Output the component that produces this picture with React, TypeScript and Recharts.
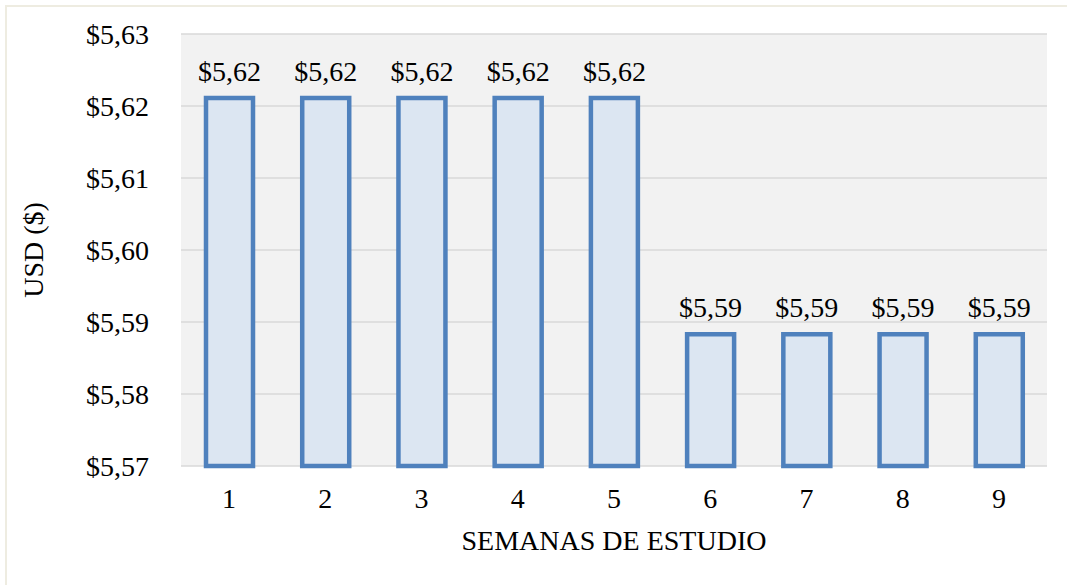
import React from "react";
import {
  BarChart,
  Bar,
  XAxis,
  YAxis,
  CartesianGrid,
  LabelList,
} from "recharts";

const WEEKS = ["1", "2", "3", "4", "5", "6", "7", "8", "9"];
const PRICES = [5.6211, 5.6211, 5.6211, 5.6211, 5.6211, 5.5883, 5.5883, 5.5883, 5.5883];
const Y_TICKS = [5.57, 5.58, 5.59, 5.6, 5.61, 5.62, 5.63];

const data = WEEKS.map((week, i) => ({ week, price: PRICES[i] }));

const FONT = "'Liberation Serif', 'Times New Roman', serif";
const FS = 28;
const money = (v: number) => `$${v.toFixed(2).replace(".", ",")}`;

export default function App() {
  return (
    <div
      style={{
        position: "absolute",
        left: 0,
        top: 0,
        width: 1067,
        height: 585,
        background: "#fff",
        overflow: "hidden",
        fontFamily: FONT,
      }}
    >
      <div
        style={{
          position: "absolute",
          left: 5,
          top: 5,
          width: 1070,
          height: 590,
          borderLeft: "2px solid #eeece1",
          borderTop: "2px solid #eeece1",
        }}
      />
      <BarChart
        width={1067}
        height={585}
        data={data}
        margin={{ top: 34, right: 20, bottom: 0, left: 0 }}
        style={{ position: "absolute", left: 0, top: 0 }}
      >
        <CartesianGrid
          vertical={false}
          fill="#f2f2f2"
          stroke="#d9d9d9"
          strokeWidth={1.5}
        />
        <XAxis
          dataKey="week"
          axisLine={false}
          tickLine={false}
          tickSize={0}
          tickMargin={22}
          height={119}
          tick={{ fontSize: FS, fill: "#000", fontFamily: FONT }}
          label={{
            content: (props: any) => {
              const vb = props.viewBox;
              return (
                <text
                  x={vb.x + vb.width / 2}
                  y={550}
                  textAnchor="middle"
                  fontSize={FS}
                  fontFamily={FONT}
                  fill="#000"
                >
                  SEMANAS DE ESTUDIO
                </text>
              );
            },
          }}
        />
        <YAxis
          domain={[5.57, 5.63]}
          ticks={Y_TICKS}
          tickFormatter={money}
          axisLine={false}
          tickLine={false}
          tickSize={0}
          tickMargin={32}
          width={181}
          tick={{ fontSize: FS, fill: "#000", fontFamily: FONT }}
          label={{
            content: (props: any) => {
              const vb = props.viewBox;
              const cy = vb.y + vb.height / 2;
              return (
                <text
                  x={33}
                  y={cy}
                  transform={`rotate(-90 33 ${cy})`}
                  textAnchor="middle"
                  dominantBaseline="central"
                  fontSize={FS}
                  fontFamily={FONT}
                  fill="#000"
                >
                  USD ($)
                </text>
              );
            },
          }}
        />
        <Bar
          dataKey="price"
          fill="#dce6f2"
          stroke="#4f81bd"
          strokeWidth={4.5}
          barSize={47}
          isAnimationActive={false}
        >
          <LabelList
            dataKey="price"
            position="top"
            offset={17}
            formatter={(v: any) => money(Number(v))}
            style={{ fontSize: FS, fill: "#000", fontFamily: FONT }}
          />
        </Bar>
      </BarChart>
    </div>
  );
}
